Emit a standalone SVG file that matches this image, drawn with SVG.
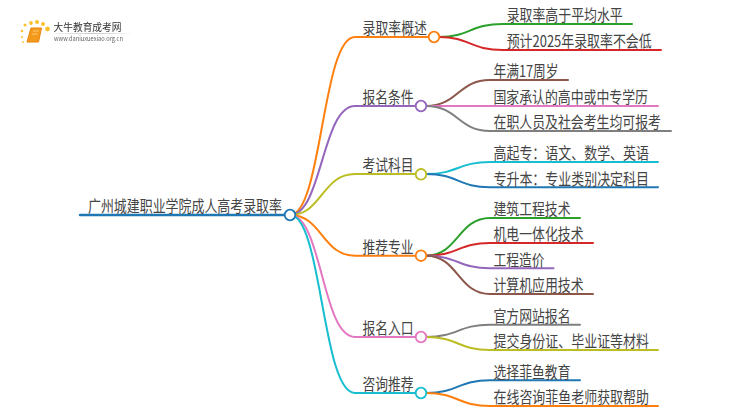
<svg xmlns="http://www.w3.org/2000/svg" width="750" height="410" viewBox="0 0 750 410">
<style>
text{font-family:"Noto Sans CJK SC","Liberation Sans",sans-serif;fill:#444;font-size:16px}
.c{fill:none;stroke-width:2;stroke-linecap:round}
.n{fill:#fff;stroke-width:1.8}
.or{stroke:#ff7f0e}.pu{stroke:#9467bd}.ol{stroke:#bcbd22}.pi{stroke:#e377c2}.cy{stroke:#17becf}.bl{stroke:#1f77b4}.gr{stroke:#2ca02c}.re{stroke:#d62728}.br{stroke:#8c564b}.gy{stroke:#7f7f7f}
</style>
<defs>
<filter id="soft" x="-10%" y="-10%" width="120%" height="120%"><feGaussianBlur stdDeviation="0.45"/></filter>
<linearGradient id="fade" x1="0" x2="1" y1="0" y2="0"><stop offset="0" stop-color="#bbb" stop-opacity="0.2"/><stop offset="0.5" stop-color="#bbb"/><stop offset="1" stop-color="#bbb" stop-opacity="0"/></linearGradient>
</defs>
<rect width="750" height="410" fill="#fff"/>
<g id="logo" filter="url(#soft)">
<g fill="#fbc02d">
<circle cx="25" cy="25" r="1.5"/><circle cx="31" cy="23" r="1.9"/><circle cx="37" cy="22" r="2"/><circle cx="43" cy="24" r="2"/><circle cx="47.500" cy="29" r="2.400"/><circle cx="22" cy="31" r="1.300"/><circle cx="22" cy="37" r="1.100"/><circle cx="23" cy="42" r="0.900"/>
</g>
<path d="M31 28H41.500L38.500 42H27Z" fill="#f39a1c" stroke="#e8820c" stroke-width="1" stroke-linejoin="round"/>
<path d="M33 31H38.500M32 34H37.500" stroke="#fcd38a" stroke-width="0.8" fill="none"/>
<text x="53.500" y="31" style="font-size:10px;fill:#333" textLength="68" lengthAdjust="spacingAndGlyphs">大牛教育成考网</text>
<rect x="54" y="33" width="80" height="0.8" fill="url(#fade)"/>
<text x="54" y="41" style="font-size:6.300px;fill:#666" textLength="69" lengthAdjust="spacingAndGlyphs">www.daniuxuexiao.org.cn</text>
</g>
<g id="connectors">
<path class="c bl" style="stroke-width:2.400" d="M80 215H285"/>
<path class="c or" d="M290 215C322 215 322 37 355 37H429"/>
<path class="c pu" d="M290 215C322 215 322 106 355 106H416"/>
<path class="c ol" d="M290 215C322 215 322 174 355 174H416"/>
<path class="c or" d="M290 215C322 215 322 255.700 355 255.700H416"/>
<path class="c pi" d="M290 215C322 215 322 337 355 337H416"/>
<path class="c cy" d="M290 215C322 215 322 393 355 393H416"/>
<path class="c gr" d="M439 37C470 37 470 24 503 24H632"/>
<path class="c re" d="M439 37C470 37 470 50 503 50H661"/>
<path class="c br" d="M426 106C458 106 458 80 490 80H568"/>
<path class="c pi" d="M426 106H658"/>
<path class="c gy" d="M426 106C458 106 458 131 490 131H671"/>
<path class="c cy" d="M426 174C458 174 458 162 490 162H658"/>
<path class="c bl" d="M426 174C458 174 458 187.300 490 187.300H658"/>
<path class="c gr" d="M426 255.700C458 255.700 458 218 490 218H580"/>
<path class="c re" d="M426 255.700C458 255.700 458 243 490 243H593"/>
<path class="c pu" d="M426 255.700C458 255.700 458 268.300 490 268.300H553.500"/>
<path class="c br" d="M426 255.700C458 255.700 458 294 490 294H593"/>
<path class="c gy" d="M426 337C458 337 458 324.700 490 324.700H580"/>
<path class="c ol" d="M426 337C458 337 458 350 490 350H658"/>
<path class="c bl" d="M426 393C458 393 458 380.300 490 380.300H580"/>
<path class="c or" d="M426 393C458 393 458 406 490 406H658"/>
</g>
<g id="root"><text x="88" y="211.500" textLength="194" lengthAdjust="spacingAndGlyphs">广州城建职业学院成人高考录取率</text><circle class="n bl" cx="290" cy="215" r="5.300"/></g>
<g id="n1"><text x="362.500" y="34.200" textLength="64.500" lengthAdjust="spacingAndGlyphs">录取率概述</text><circle class="n or" cx="434" cy="37" r="5.300"/></g>
<g id="n2"><text x="362.500" y="103.200" textLength="51" lengthAdjust="spacingAndGlyphs">报名条件</text><circle class="n pu" cx="421" cy="106" r="5.300"/></g>
<g id="n3"><text x="362.500" y="171.200" textLength="51" lengthAdjust="spacingAndGlyphs">考试科目</text><circle class="n ol" cx="421" cy="174.300" r="5.300"/></g>
<g id="n4"><text x="362.500" y="252.700" textLength="51" lengthAdjust="spacingAndGlyphs">推荐专业</text><circle class="n or" cx="421" cy="255.700" r="5.300"/></g>
<g id="n5"><text x="362.500" y="334.200" textLength="51" lengthAdjust="spacingAndGlyphs">报名入口</text><circle class="n pi" cx="421" cy="337" r="5.300"/></g>
<g id="n6"><text x="362.500" y="390.200" textLength="51" lengthAdjust="spacingAndGlyphs">咨询推荐</text><circle class="n cy" cx="421" cy="393" r="5.300"/></g>
<g id="leaf1"><text x="506.700" y="21.200" textLength="116" lengthAdjust="spacingAndGlyphs">录取率高于平均水平</text></g>
<g id="leaf2"><text x="506.700" y="47.200" textLength="145" lengthAdjust="spacingAndGlyphs">预计2025年录取率不会低</text></g>
<g id="leaf3"><text x="493.500" y="77.200" textLength="65" lengthAdjust="spacingAndGlyphs">年满17周岁</text></g>
<g id="leaf4"><text x="493.500" y="103.200" textLength="154.500" lengthAdjust="spacingAndGlyphs">国家承认的高中或中专学历</text></g>
<g id="leaf5"><text x="493.500" y="128.200" textLength="167.500" lengthAdjust="spacingAndGlyphs">在职人员及社会考生均可报考</text></g>
<g id="leaf6"><text x="493.500" y="159.200" textLength="155.500" lengthAdjust="spacingAndGlyphs">高起专：语文、数学、英语</text></g>
<g id="leaf7"><text x="493.500" y="184.500" textLength="155.500" lengthAdjust="spacingAndGlyphs">专升本：专业类别决定科目</text></g>
<g id="leaf8"><text x="493.500" y="215.200" textLength="77" lengthAdjust="spacingAndGlyphs">建筑工程技术</text></g>
<g id="leaf9"><text x="493.500" y="240.200" textLength="90" lengthAdjust="spacingAndGlyphs">机电一体化技术</text></g>
<g id="leaf10"><text x="493.500" y="265.500" textLength="51" lengthAdjust="spacingAndGlyphs">工程造价</text></g>
<g id="leaf11"><text x="493.500" y="291.200" textLength="90" lengthAdjust="spacingAndGlyphs">计算机应用技术</text></g>
<g id="leaf12"><text x="493.500" y="321.900" textLength="77" lengthAdjust="spacingAndGlyphs">官方网站报名</text></g>
<g id="leaf13"><text x="493.500" y="347.200" textLength="155.500" lengthAdjust="spacingAndGlyphs">提交身份证、毕业证等材料</text></g>
<g id="leaf14"><text x="493.500" y="377.500" textLength="77" lengthAdjust="spacingAndGlyphs">选择菲鱼教育</text></g>
<g id="leaf15"><text x="493.500" y="403.200" textLength="155.500" lengthAdjust="spacingAndGlyphs">在线咨询菲鱼老师获取帮助</text></g>
</svg>
